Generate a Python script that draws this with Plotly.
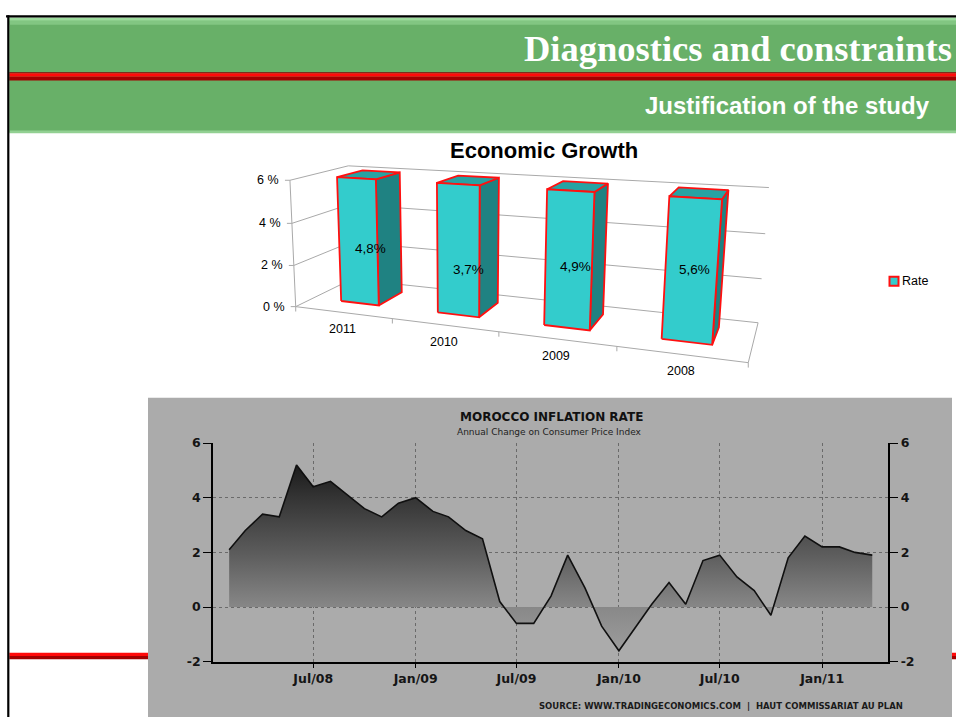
import numpy as np
import pandas as pd
import plotly.graph_objects as go

# ------------------------------------------------------------------
# Data
# ------------------------------------------------------------------
# Economic growth (3-D column chart)
years = ["2011", "2010", "2009", "2008"]
growth_rate = [4.8, 3.7, 4.9, 5.6]
growth_label = ["4,8%", "3,7%", "4,9%", "5,6%"]
column_height = [6.0, 6.0, 6.0, 6.0]      # columns as drawn reach the 6 % ceiling
pct_ticks = [0, 2, 4, 6]
pct_tick_text = ["0 %", "2 %", "4 %", "6 %"]
series_name = "Rate"

# Morocco inflation rate (annual change on CPI), monthly Feb-2008 .. Apr-2011
inflation_months = pd.date_range("2008-02-01", periods=39, freq="MS")
inflation = [2.1, 2.8, 3.4, 3.3, 5.2, 4.4, 4.6, 4.1, 3.6, 3.3, 3.8, 4.0,
             3.5, 3.3, 2.8, 2.5, 0.2, -0.6, -0.6, 0.4, 1.9, 0.7, -0.7, -1.6,
             -0.7, 0.1, 0.9, 0.1, 1.7, 1.9, 1.1, 0.6, -0.3, 1.8, 2.6, 2.2,
             2.2, 2.0, 1.9]
infl_tick_dates = ["2008-07-01", "2009-01-01", "2009-07-01",
                   "2010-01-01", "2010-07-01", "2011-01-01"]
infl_tick_text = ["Jul/08", "Jan/09", "Jul/09", "Jan/10", "Jul/10", "Jan/11"]
infl_y_ticks = [-2, 0, 2, 4, 6]
infl_y_text = ["-2", "0", "2", "4", "6"]

# ------------------------------------------------------------------
# Perspective camera for the 3-D column chart (fitted to the frame)
# world: X = category axis 0..1, Y = value/6, Z = depth 0 (front)..1 (back)
# ------------------------------------------------------------------
frame_world = np.array([
    [0, 0, 0], [1, 0, 0], [0, 0, 1], [1, 0, 1],
    [0, 1, 0], [0, 1, 1], [1, 1, 1],
    [0, 1/3, 0], [0, 2/3, 0], [0, 1/3, 1], [0, 2/3, 1], [1, 1/3, 1], [1, 2/3, 1]])
frame_screen = np.array([
    [297, 305], [748, 363], [350, 278], [758, 320],
    [287, 176], [350, 162], [768, 183],
    [294.3, 262.7], [293.3, 219.3], [350, 238.5], [350, 200], [762, 277], [766, 231]])


def fit_camera(W, S):
    m = S.mean(0)
    s = S.std()
    Sn = (S - m) / s
    A = []
    for (X, Y, Z), (u, v) in zip(W, Sn):
        A.append([X, Y, Z, 1, 0, 0, 0, 0, -u * X, -u * Y, -u * Z, -u])
        A.append([0, 0, 0, 0, X, Y, Z, 1, -v * X, -v * Y, -v * Z, -v])
    P = np.linalg.svd(np.array(A))[2][-1].reshape(3, 4)
    T = np.array([[s, 0, m[0]], [0, s, m[1]], [0, 0, 1]])
    return T @ P


CAM = fit_camera(frame_world, frame_screen)
VMAX = 6.0


def project(X, pct, Z):
    p = CAM @ np.array([X, pct / VMAX, Z, 1.0])
    return p[0] / p[2], p[1] / p[2]


fig = go.Figure()

# --- walls / floor gridlines -------------------------------------
gx, gy = [], []
for v in pct_ticks:
    for pt in (project(0, v, 0), project(0, v, 1), project(1, v, 1)):
        gx.append(pt[0]); gy.append(pt[1])
    gx.append(None); gy.append(None)
for pt in (project(0, 0, 0), project(1, 0, 0), project(1, 0, 1)):
    gx.append(pt[0]); gy.append(pt[1])
gx.append(None); gy.append(None)
for pt in (project(0, 0, 0), project(0, VMAX, 0)):
    gx.append(pt[0]); gy.append(pt[1])
gx.append(None); gy.append(None)
for v in pct_ticks:
    px, py = project(0, v, 0)
    gx += [px, px - 5, None]; gy += [py, py, None]
for k in range(len(years) + 1):
    px, py = project(k / len(years), 0, 0)
    gx += [px, px, None]; gy += [py, py + 5, None]
fig.add_trace(go.Scatter(x=gx, y=gy, mode="lines",
                         line=dict(color="#a9a9a9", width=1),
                         hoverinfo="skip", showlegend=False))

# --- columns ------------------------------------------------------
BAR_FRAC = 0.4
Z0, Z1 = 0.30, 0.76
n = len(years)
for i, h in enumerate(column_height):
    x0 = (i + 0.5 - BAR_FRAC / 2) / n
    x1 = (i + 0.5 + BAR_FRAC / 2) / n
    faces = [
        ([(x1, 0, Z0), (x1, h, Z0), (x1, h, Z1), (x1, 0, Z1)], "#1f8282"),   # side
        ([(x0, h, Z0), (x1, h, Z0), (x1, h, Z1), (x0, h, Z1)], "#27a3a3"),   # top
        ([(x0, 0, Z0), (x1, 0, Z0), (x1, h, Z0), (x0, h, Z0)], "#33cccc"),   # front
    ]
    for pts, col in faces:
        xy = [project(*p) for p in pts]
        xs = [q[0] for q in xy] + [xy[0][0]]
        ys = [q[1] for q in xy] + [xy[0][1]]
        fig.add_trace(go.Scatter(x=xs, y=ys, mode="lines", fill="toself",
                                 fillcolor=col,
                                 line=dict(color="#ff1010", width=1.8),
                                 hoverinfo="skip", showlegend=False,
                                 name=series_name))

# --- inflation chart (second subplot) -----------------------------
fig.add_trace(go.Scatter(
    x=inflation_months, y=inflation, xaxis="x2", yaxis="y2",
    mode="lines", line=dict(color="#101010", width=1.6),
    fill="tozeroy",
    fillgradient=dict(type="vertical", start=-2, stop=6,
                      colorscale=[[0.0, "#a3a3a3"], [0.25, "#8a8a8a"],
                                  [0.5, "#5d5d5d"], [0.75, "#353535"],
                                  [0.9, "#1b1b1b"], [1.0, "#121212"]]),
    hoverinfo="skip", showlegend=False))
fig.add_trace(go.Scatter(
    x=inflation_months, y=inflation, xaxis="x2", yaxis="y3",
    mode="lines", line=dict(width=0, color="rgba(0,0,0,0)"),
    hoverinfo="skip", showlegend=False))

# ------------------------------------------------------------------
# Slide decoration (shapes in the pixel canvas)
# ------------------------------------------------------------------
def rect(x0, y0, x1, y1, color, line=None):
    return dict(type="rect", xref="x", yref="y", x0=x0, y0=y0, x1=x1, y1=y1,
                fillcolor=color, line=dict(width=0) if line is None else line,
                layer="below")

shapes = [
    rect(9.3, 10, 956, 127, "#68b068"),
    rect(9.3, 10, 956, 13, "#9ddb9d"),
    rect(9.3, 13, 956, 17, "#82c682"),
    rect(9.3, 125, 956, 128, "#92d092"),
    rect(9.3, 65.5, 956, 66.6, "#8a0000"),
    rect(9.3, 66.6, 956, 70.2, "#ff0a0a"),
    rect(9.3, 70.2, 956, 74, "#a30000"),
    rect(9.3, 658.3, 956, 661.6, "#ff0a0a"),
    rect(9.3, 661.6, 956, 665, "#a30000"),
    rect(148, 398, 952, 724, "#ababab"),
    rect(6, 7.3, 956, 9.6, "#000000"),
    rect(7.2, 7.3, 9.4, 724, "#000000"),
    rect(889.5, 274.5, 898.5, 283.5, "#33cccc", line=dict(color="#ff1010", width=2)),
]

ARIAL = "Arial, Liberation Sans, sans-serif"
DJ = "DejaVu Sans, Verdana, sans-serif"
annotations = [
    dict(text="Diagnostics and constraints", x=522, y=41, xanchor="left",
         font=dict(family="Times New Roman, Liberation Serif, serif", size=36.5,
                   color="white", weight="bold")),
    dict(text="Justification of the study", x=643, y=100, xanchor="left",
         font=dict(family=ARIAL, size=24, color="white", weight="bold")),
    dict(text="Economic Growth", x=544, y=146, xanchor="center",
         font=dict(family=ARIAL, size=22, color="black", weight="bold")),
    dict(text=series_name, x=900, y=279, xanchor="left",
         font=dict(family=ARIAL, size=12.5, color="black")),
    dict(text="MOROCCO INFLATION RATE", x=551, y=418, xanchor="center",
         font=dict(family=DJ, size=12, color="#111111", weight="bold")),
    dict(text="Annual Change on Consumer Price Index", x=549, y=433, xanchor="center",
         font=dict(family=DJ, size=9, color="#222222")),
    dict(text="SOURCE: WWW.TRADINGECONOMICS.COM  |  HAUT COMMISSARIAT AU PLAN",
         x=905, y=713, xanchor="right",
         font=dict(family=DJ, size=8.5, color="#1a1a1a", weight="bold")),
]
for v, t in zip(pct_ticks, pct_tick_text):
    px, py = project(0, v, 0)
    annotations.append(dict(text=t, x=px, y=py, xanchor="right", xshift=-9,
                            font=dict(family=ARIAL, size=12.5, color="black")))
for i, yr in enumerate(years):
    px, py = project((i + 0.5) / n, 0, 0)
    annotations.append(dict(text=yr, x=px, y=py, xanchor="center", yshift=-17,
                            font=dict(family=ARIAL, size=12.5, color="black")))
for i, (v, lab) in enumerate(zip(growth_rate, growth_label)):
    px, py = project((i + 0.5) / n, v / 2, (Z0 + Z1) / 2)
    annotations.append(dict(text=lab, x=px, y=py, xanchor="center",
                            font=dict(family=ARIAL, size=13.5, color="black")))
for a in annotations:
    a.setdefault("xref", "x")
    a.setdefault("yref", "y")
    a.setdefault("showarrow", False)
    a.setdefault("yanchor", "middle")

# ------------------------------------------------------------------
# Layout
# ------------------------------------------------------------------
W, H = 956, 724
X2 = [213 / W, 888.4 / W]
Y2 = [(H - 667.5) / H, (H - 444.3) / H]
tickfont = dict(family=DJ, size=12.5, color="#151515", weight="bold")

fig.update_layout(
    width=W, height=H, autosize=False,
    margin=dict(l=0, r=0, t=0, b=0, pad=0),
    paper_bgcolor="white", plot_bgcolor="rgba(0,0,0,0)",
    showlegend=False, hovermode=False,
    xaxis=dict(domain=[0, 1], range=[0, W], visible=False, fixedrange=True),
    yaxis=dict(domain=[0, 1], range=[H, 0], visible=False, fixedrange=True),
    xaxis2=dict(domain=X2, anchor="y2", type="date",
                range=["2008-01-03", "2011-04-30"],
                tickmode="array", tickvals=infl_tick_dates, ticktext=infl_tick_text,
                tickfont=tickfont, ticks="outside", ticklen=5, tickcolor="black",
                showline=True, linecolor="black", linewidth=1.5,
                showgrid=True, gridcolor="#6a6a6a", griddash="dot", gridwidth=1,
                zeroline=False, fixedrange=True),
    yaxis2=dict(domain=Y2, anchor="x2", range=[-2, 6],
                tickmode="array", tickvals=infl_y_ticks, ticktext=infl_y_text,
                tickfont=tickfont, ticks="outside", ticklen=8, tickcolor="black",
                showline=True, linecolor="black", linewidth=1.5,
                showgrid=True, gridcolor="#6a6a6a", griddash="dot", gridwidth=1,
                zeroline=False, fixedrange=True),
    yaxis3=dict(overlaying="y2", anchor="x2", side="right", range=[-2, 6],
                tickmode="array", tickvals=infl_y_ticks, ticktext=infl_y_text,
                tickfont=tickfont, ticks="outside", ticklen=8, tickcolor="black",
                showline=True, linecolor="black", linewidth=1.5,
                showgrid=False, zeroline=False, fixedrange=True),
    shapes=shapes,
    annotations=annotations,
)

fig.write_html("out.html", config={"displayModeBar": False},
               post_script="document.body.style.margin='0';document.body.style.overflow='hidden';")
